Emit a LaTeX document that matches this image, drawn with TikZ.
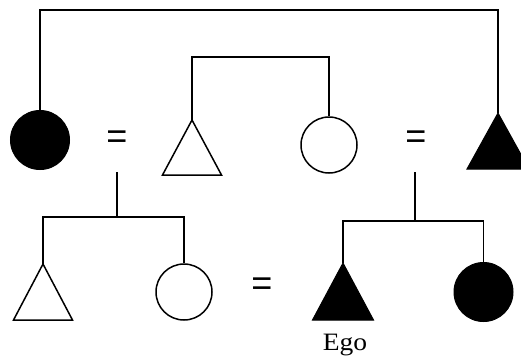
\documentclass[tikz,border=0pt]{standalone}
\usepackage{fontspec}
\setmainfont{Liberation Serif}
\newfontfamily\eqfont{Liberation Sans}
\begin{document}
\begin{tikzpicture}[x=1pt,y=-1pt,
  line join=miter,
  link/.style={line width=1.4pt},
  desc/.style={line width=2pt},
  open/.style={draw, line width=1.5pt, fill=white},
  solid/.style={draw, line width=1pt, fill=black},
  eqsign/.style={font=\eqfont\fontsize{36}{36}\selectfont, inner sep=0pt}]
\useasboundingbox (0,0) rectangle (521,360);
\begin{scope}
\clip (0,0) rectangle (521,360);
% generation 1
\node[solid, circle, minimum size=59pt, inner sep=0pt] (fc1) at (40,140) {};
\node[eqsign] (eq1) at (117,140) {=};
\coordinate (t1) at (192,120);
\draw[open] (t1) -- ++(-29.5,55) -- ++(59,0) -- cycle;
\node[open, circle, minimum size=56pt, inner sep=0pt] (c1) at (329,145) {};
\node[eqsign] (eq2) at (416,140) {=};
\coordinate (t2) at (498,113);
\draw[solid] (t2) -- ++(-31,56) -- ++(62,0) -- cycle;
% generation 2
\coordinate (t3) at (43,264);
\draw[open] (t3) -- ++(-29.5,56) -- ++(59,0) -- cycle;
\node[open, circle, minimum size=56pt, inner sep=0pt] (c2) at (184,292) {};
\node[eqsign] (eq3) at (262,287) {=};
\coordinate (t4) at (343,263);
\draw[solid] (t4) -- ++(-30.5,57) -- ++(61,0) -- cycle;
\node[solid, circle, minimum size=59pt, inner sep=0pt] (fc2) at (483.5,292) {};
\node[font=\fontsize{25}{25}\selectfont, inner sep=0pt, anchor=base] (ego) at (345,350) {\scalebox{1.1}[1]{Ego}};
% connectors
\coordinate (top1) at (40,10);
\draw[link] (fc1.north) -- (top1) -| (t2);
\coordinate (top2) at (192,57);
\draw[link] (t1) -- (top2) -| (c1.north);
\coordinate (m1) at (117,172);
\coordinate (d1) at (117,217);
\draw[desc] (m1) -- (d1);
\draw[link] (t3) |- (d1) -| (c2.north);
\coordinate (m2) at (415,172);
\coordinate (d2) at (415,221);
\draw[desc] (m2) -- (d2);
\draw[link] (t4) |- (d2) -| (fc2.north);
\end{scope}
\end{tikzpicture}
\end{document}
